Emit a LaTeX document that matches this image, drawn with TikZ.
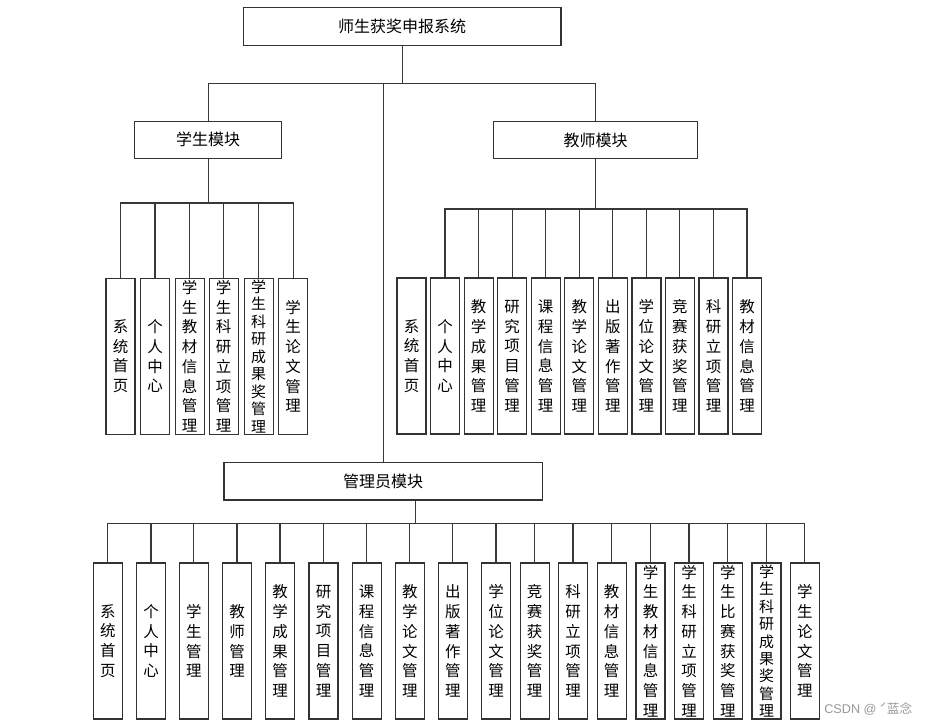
\documentclass[tikz,border=0pt]{standalone}
\usepackage{fontspec}
\setmainfont{Noto Sans CJK SC}
\newfontfamily\wmfont{Liberation Sans}
\begin{document}
\begin{tikzpicture}[x=0.75pt,y=-0.75pt,
  conn/.style={draw=black!78,line width=0.8pt},
  hbox/.style={draw=black!80,line width=0.9pt,fill=white,inner sep=0pt,
    font=\fontsize{12pt}{14pt}\selectfont},
  vbox/.style={draw=black!80,line width=0.9pt,fill=white,inner sep=0pt,
    minimum width=21.75pt,minimum height=117pt,align=center,
    font=\fontsize{11.6pt}{14.8pt}\selectfont},
  vtight/.style={font=\fontsize{11.2pt}{13.1pt}\selectfont}]
\useasboundingbox[fill=white] (0,0) rectangle (925,726);

% top levels
\node[hbox,minimum width=238.3pt,minimum height=28.5pt] (root) at (402.2,26.7) {师生获奖申报系统};
\node[hbox,minimum width=110.2pt,minimum height=27.7pt] (stu) at (208.2,139.8) {学生模块};
\node[hbox,minimum width=153.3pt,minimum height=28.2pt] (tea) at (595.5,140) {教师模块};
\node[hbox,minimum width=238.7pt,minimum height=28.2pt] (adm) at (383.2,481.2) {管理员模块};

\coordinate (rb) at (402.2,83.3);
\coordinate (sb) at (208.2,203);
\coordinate (tb) at (595.5,209);
\coordinate (ab) at (415.7,523.3);

% student children
\node[vbox] (s1) at (120.5,356.3) {系\\统\\首\\页};
\node[vbox] (s2) at (155,356.3) {个\\人\\中\\心};
\node[vbox] (s3) at (189.6,356.3) {学\\生\\教\\材\\信\\息\\管\\理};
\node[vbox] (s4) at (223.7,356.3) {学\\生\\科\\研\\立\\项\\管\\理};
\node[vbox,vtight] (s5) at (258.6,356.3) {学\\生\\科\\研\\成\\果\\奖\\管\\理};
\node[vbox] (s6) at (293.2,356.3) {学\\生\\论\\文\\管\\理};

% teacher children
\node[vbox] (t1) at (411.5,356) {系\\统\\首\\页};
\node[vbox] (t2) at (445,356) {个\\人\\中\\心};
\node[vbox] (t3) at (478.6,356) {教\\学\\成\\果\\管\\理};
\node[vbox] (t4) at (512.2,356) {研\\究\\项\\目\\管\\理};
\node[vbox] (t5) at (545.7,356) {课\\程\\信\\息\\管\\理};
\node[vbox] (t6) at (579.3,356) {教\\学\\论\\文\\管\\理};
\node[vbox] (t7) at (612.8,356) {出\\版\\著\\作\\管\\理};
\node[vbox] (t8) at (646.4,356) {学\\位\\论\\文\\管\\理};
\node[vbox] (t9) at (679.9,356) {竞\\赛\\获\\奖\\管\\理};
\node[vbox] (t10) at (713.5,356) {科\\研\\立\\项\\管\\理};
\node[vbox] (t11) at (747,356) {教\\材\\信\\息\\管\\理};

% admin children
\node[vbox] (a1) at (107.8,641) {系\\统\\首\\页};
\node[vbox] (a2) at (151,641) {个\\人\\中\\心};
\node[vbox] (a3) at (193.8,641) {学\\生\\管\\理};
\node[vbox] (a4) at (237,641) {教\\师\\管\\理};
\node[vbox] (a5) at (280,641) {教\\学\\成\\果\\管\\理};
\node[vbox] (a6) at (323.5,641) {研\\究\\项\\目\\管\\理};
\node[vbox] (a7) at (366.7,641) {课\\程\\信\\息\\管\\理};
\node[vbox] (a8) at (409.8,641) {教\\学\\论\\文\\管\\理};
\node[vbox] (a9) at (452.8,641) {出\\版\\著\\作\\管\\理};
\node[vbox] (a10) at (496,641) {学\\位\\论\\文\\管\\理};
\node[vbox] (a11) at (534.7,641) {竞\\赛\\获\\奖\\管\\理};
\node[vbox] (a12) at (573,641) {科\\研\\立\\项\\管\\理};
\node[vbox] (a13) at (611.7,641) {教\\材\\信\\息\\管\\理};
\node[vbox] (a14) at (650.5,641) {学\\生\\教\\材\\信\\息\\管\\理};
\node[vbox] (a15) at (689,641) {学\\生\\科\\研\\立\\项\\管\\理};
\node[vbox] (a16) at (727.8,641) {学\\生\\比\\赛\\获\\奖\\管\\理};
\node[vbox,vtight] (a17) at (766.5,641) {学\\生\\科\\研\\成\\果\\奖\\管\\理};
\node[vbox] (a18) at (804.8,641) {学\\生\\论\\文\\管\\理};

% connectors: root level
\draw[conn] (root.south) -- (rb);
\draw[conn] (stu.north) |- (rb) -| (tea.north);
\draw[conn] (adm.north) -- (adm.north |- rb);

% student
\draw[conn] (stu.south) -- (sb);
\draw[conn] (s1.north) |- (s6.north |- sb) -- (s6.north);
\foreach \i in {2,...,5} {\draw[conn] (s\i.north) -- (s\i.north |- sb);}

% teacher (first box has no connector)
\draw[conn] (tea.south) -- (tb);
\draw[conn] (t2.north) |- (t11.north |- tb) -- (t11.north);
\foreach \i in {3,...,10} {\draw[conn] (t\i.north) -- (t\i.north |- tb);}

% admin
\draw[conn] (adm.south -| ab) -- (ab);
\draw[conn] (a1.north) |- (a18.north |- ab) -- (a18.north);
\foreach \i in {2,...,17} {\draw[conn] (a\i.north) -- (a\i.north |- ab);}

% watermark
\node[text=black!40,font=\fontsize{9.5pt}{11pt}\selectfont,anchor=west,inner sep=0pt] (wm) at (824,709) {{\wmfont CSDN @} ˊ蓝念};
\end{tikzpicture}
\end{document}
